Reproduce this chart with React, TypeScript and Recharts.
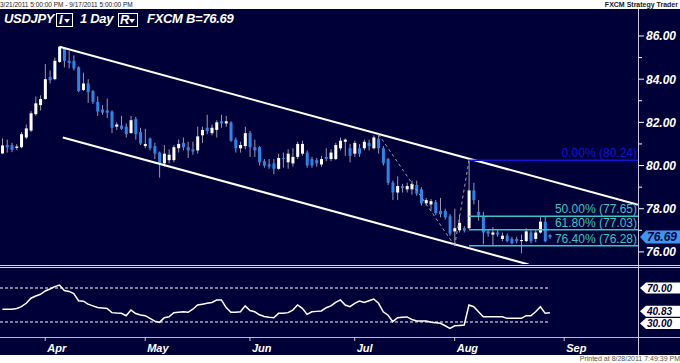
import React from "react"
import { ComposedChart, Bar, Line, XAxis, YAxis, ReferenceLine } from "recharts"

// daily candles, Mar 21 .. Aug 29 2011 (index 0 = Mar 21)
const opens = [
  80.56, 80.95, 80.95, 80.82, 80.85, 81.3, 81.62, 82.38, 82.8, 83.08,
  84.1, 84.0, 84.8, 85.4, 84.85, 84.85, 84.55, 83.5, 83.8, 83.45,
  82.95, 82.6, 82.55, 82.5, 81.8, 81.85, 81.8, 81.5, 82.15, 81.55,
  80.9, 81.25, 80.9, 80.6, 80.1, 80.25, 80.25, 80.8, 81.05, 80.85,
  80.75, 80.7, 81.4, 81.75, 81.5, 81.65, 82.05, 81.95, 82.0, 81.2,
  80.8, 80.9, 81.5, 80.85, 80.85, 80.2, 80.05, 80.1, 79.85, 80.35,
  80.15, 80.1, 80.4, 80.55, 80.6, 80.3, 80.25, 80.05, 80.4, 80.3,
  80.3, 80.8, 81.1, 80.8, 80.55, 80.8, 80.8, 81.05, 80.8, 81.25,
  80.8, 80.3, 79.2, 78.75, 79.05, 78.9, 78.9, 79.1, 78.9, 78.25,
  78.2, 78.3, 77.9, 77.9, 77.65, 76.95, 77.0, 77.1, 77.1, 78.85,
  77.85, 77.65, 76.95, 76.8, 76.9, 76.6, 76.75, 76.6, 76.6, 76.5,
  76.5, 76.9, 76.6, 76.9, 77.4, 76.78,
]
const highs = [
  81.26, 81.2, 81.05, 81.0, 81.55, 81.9, 82.52, 83.2, 83.25, 84.7,
  84.4, 85.0, 85.52, 85.45, 85.3, 85.1, 84.6, 84.3, 84.0, 83.5,
  83.2, 82.8, 83.1, 82.55, 82.0, 82.3, 81.95, 82.3, 82.25, 81.75,
  81.7, 81.3, 81.05, 80.65, 80.95, 80.75, 80.95, 81.2, 81.3, 81.1,
  81.1, 81.8, 81.8, 82.35, 81.9, 82.1, 82.35, 82.3, 82.05, 81.3,
  81.1, 81.8, 81.6, 81.2, 80.9, 80.3, 80.3, 80.3, 80.55, 80.6,
  80.75, 80.8, 81.1, 81.15, 80.7, 80.4, 80.35, 80.45, 80.8, 80.75,
  81.05, 81.3, 81.25, 81.0, 81.15, 81.0, 81.2, 81.2, 81.4, 81.45,
  80.9, 80.35, 79.3, 79.5, 79.15, 79.2, 79.3, 79.3, 79.0, 78.5,
  78.45, 78.4, 78.5, 78.0, 77.75, 78.0, 77.7, 77.2, 80.24, 79.2,
  78.4, 77.85, 77.05, 77.15, 77.0, 76.9, 76.85, 76.7, 76.7, 76.8,
  77.1, 77.0, 77.05, 77.6, 77.65, 76.82,
]
const lows = [
  80.54, 80.6, 80.62, 80.72, 80.8, 81.22, 81.55, 82.3, 82.55, 83.05,
  83.8, 83.95, 84.75, 84.55, 84.5, 84.4, 83.4, 83.45, 82.9, 82.85,
  82.3, 82.35, 82.2, 81.5, 81.65, 81.65, 81.3, 81.48, 81.2, 80.95,
  80.8, 80.7, 80.3, 79.44, 79.95, 80.1, 80.15, 80.6, 80.7, 80.35,
  80.5, 80.55, 81.05, 81.45, 81.4, 81.3, 81.75, 81.8, 81.1, 80.6,
  80.6, 80.75, 80.4, 80.4, 80.0, 79.9, 79.85, 79.6, 79.8, 79.9,
  79.85, 79.95, 80.3, 80.45, 79.9, 79.9, 79.95, 79.95, 80.2, 80.2,
  80.25, 80.7, 80.45, 80.15, 80.4, 80.4, 80.7, 80.7, 80.75, 80.55,
  80.0, 79.1, 78.4, 78.4, 78.75, 78.75, 78.65, 78.6, 78.15, 78.15,
  77.9, 77.7, 77.6, 77.5, 76.75, 76.28, 76.9, 76.9, 77.05, 78.2,
  77.45, 76.35, 76.7, 76.3, 76.7, 76.5, 76.45, 76.35, 76.4, 75.94,
  76.45, 76.4, 76.45, 76.85, 76.45, 76.6,
]
const closes = [
  80.93, 80.85, 80.72, 80.88, 81.45, 81.72, 82.42, 82.88, 83.08, 84.0,
  83.95, 84.85, 85.5, 84.85, 84.75, 84.5, 83.45, 83.8, 83.4, 82.95,
  82.5, 82.45, 82.45, 81.75, 81.9, 81.7, 81.45, 82.1, 81.45, 81.02,
  81.0, 80.8, 80.55, 80.1, 80.55, 80.5, 80.85, 81.0, 80.85, 80.7,
  80.65, 81.35, 81.65, 81.6, 81.75, 82.0, 81.95, 82.05, 81.15, 80.8,
  80.95, 81.5, 80.85, 80.7, 80.15, 80.0, 79.95, 79.85, 80.35, 80.3,
  80.55, 80.4, 81.0, 81.0, 80.0, 80.0, 80.1, 80.3, 80.3, 80.6,
  80.95, 81.15, 81.2, 80.45, 81.05, 80.55, 81.1, 80.9, 81.3, 80.8,
  80.1, 79.2, 78.75, 79.05, 78.95, 79.05, 79.15, 78.7, 78.25, 78.4,
  78.35, 77.8, 77.75, 77.6, 76.85, 77.1, 77.35, 76.98, 78.85, 78.4,
  77.7, 76.9, 76.85, 76.9, 76.8, 76.75, 76.5, 76.4, 76.5, 76.55,
  76.95, 76.5, 76.9, 77.4, 76.5, 76.69,
]
const rsi = [
  45, 45, 45, 46, 48, 52, 58, 60.6, 62.6, 66.5,
  68.8, 71.6, 73.5, 67, 66, 63.5, 55, 54.5, 51, 49,
  47, 46.5, 46, 41, 40.5, 40.2, 37.4, 44, 40, 38.2,
  37.4, 34.3, 31, 29.6, 35, 36.2, 41, 41.5, 42, 41.4,
  45, 50, 51, 52, 53, 55.9, 56, 47, 41.5, 41.4,
  42, 49, 43.5, 42, 38.5, 36.5, 35.5, 35, 40.2, 40.2,
  41, 44, 50, 46, 39, 42, 42.5, 43, 46.8, 49,
  53, 56, 50, 48, 52, 54.7, 53, 55, 57, 52,
  42, 38, 30.4, 35, 35.5, 36, 33, 31.2, 31.2, 31.2,
  29.6, 29, 28.5, 25.6, 22.6, 25.6, 26, 26.5, 50, 48,
  42, 36.2, 36.2, 36.2, 36.2, 36.2, 34.3, 34.3, 34.3, 34.3,
  37.4, 37.4, 42, 48, 40.2, 40.83,
]

const priceTicks = [76, 77, 78, 79, 80, 81, 82, 83, 84, 85, 86]
const rsiMarks = [70, 40.83, 30]
const rsiNudge = [0, -1.5, 1.5]
const monthTicks = [9, 30, 52, 74, 95, 118]
const monthLabels = ["Apr", "May", "Jun", "Jul", "Aug", "Sep"]
const fibNames = ["0.00%", "50.00%", "61.80%", "76.40%"]
const fibPrices = [80.24, 77.65, 77.03, 76.28]
const fibColors = ["#1414d2", "#3cc4c4", "#3cc4c4", "#3cc4c4"]

const candles = opens.map((o, i) => ({
  i,
  open: o,
  high: highs[i],
  low: lows[i],
  close: closes[i],
  range: [lows[i], highs[i]],
  rsi: rsi[i],
}))

const NAVY = "#000038"
const FONT = "'Liberation Sans', Arial, sans-serif"
const X_DOMAIN = [-0.5, 133.5]

function Candle(props: any) {
  const { x, y, width, height, payload } = props
  const top = Math.min(y, y + height)
  const h = Math.abs(height)
  const span = payload.high - payload.low
  const k = span > 0 ? h / span : 0
  const yo = top + (payload.high - payload.open) * k
  const yc = top + (payload.high - payload.close) * k
  const up = payload.close >= payload.open
  const cx = x + width / 2
  return (
    <g>
      <line x1={cx} x2={cx} y1={top} y2={top + h} stroke="#9a9aac" strokeWidth={1} />
      <rect
        x={x}
        y={Math.min(yo, yc)}
        width={width}
        height={Math.max(1, Math.abs(yc - yo))}
        fill={up ? "#ffffff" : "#2c86e8"}
      />
    </g>
  )
}

const priceTick = (p: any) => {
  const v = p.payload.value
  const major = v % 2 === 0
  return (
    <g>
      <line x1={p.x + 1} x2={p.x + (major ? 6 : 4)} y1={p.y} y2={p.y} stroke="#ffffff" />
      {major && (
        <text x={p.x + 8} y={p.y + 4.5} fill="#ffffff" fontSize={12} fontWeight="bold" fontStyle="italic" fontFamily={FONT}>
          {v.toFixed(2)}
        </text>
      )}
    </g>
  )
}

const monthTick = (p: any) => {
  const idx = monthTicks.indexOf(p.payload.value)
  return (
    <g>
      <line x1={p.x} x2={p.x} y1={p.y} y2={p.y + 4} stroke="#c8c8d8" />
      <text x={p.x + 2} y={p.y + 15} fill="#ffffff" fontSize={11} fontWeight="bold" fontStyle="italic" fontFamily={FONT}>
        {monthLabels[idx]}
      </text>
    </g>
  )
}

// flag-shaped value marker on the right axis
function flag(text: string, fill: string, size: number, nudge = 0) {
  const hh = size / 2 + 0.5
  return (p: any) => {
    const vb = p.viewBox || {}
    const x = (vb.x || 0) + (vb.width || 0)
    const y = (vb.y || 0) + nudge
    return (
      <g>
        <polygon
          points={`${x + 2},${y} ${x + 8},${y - hh} ${x + 42},${y - hh} ${x + 42},${y + hh} ${x + 8},${y + hh}`}
          fill={fill}
        />
        <text x={x + 9} y={y + size * 0.36} fill={NAVY} fontSize={size} fontWeight="bold" fontStyle="italic" fontFamily={FONT}>
          {text}
        </text>
      </g>
    )
  }
}

function fibLabel(text: string, color: string) {
  return (p: any) => {
    const vb = p.viewBox || {}
    const x = (vb.x || 0) + (vb.width || 0)
    const y = vb.y || 0
    return (
      <text x={x - 1} y={y - 3} textAnchor="end" fill={color} fontSize={12} fontFamily={FONT}>
        {text}
      </text>
    )
  }
}

export default function App() {
  const hdr: React.CSSProperties = {
    position: "absolute",
    top: 12,
    color: "#ffffff",
    fontFamily: FONT,
    fontSize: 13,
    fontWeight: "bold",
    fontStyle: "italic",
    lineHeight: "14px",
    letterSpacing: -0.3,
    whiteSpace: "nowrap",
  }
  const box: React.CSSProperties = {
    position: "absolute",
    top: 13,
    height: 12,
    border: "1px solid #ffffff",
  }
  const arrow = (
    <svg width={6} height={4} style={{ position: "absolute", right: 2, top: 5 }}>
      <polygon points="0,0 6,0 3,4" fill="#ffffff" />
    </svg>
  )
  return (
    <div style={{ position: "absolute", left: 0, top: 0, width: 680, height: 363, background: "#ffffff", overflow: "hidden" }}>
      <div style={{ position: "absolute", left: 0, top: 1, fontFamily: FONT, fontSize: 6.5, color: "#202020", whiteSpace: "nowrap" }}>
        3/21/2011 5:00:00 PM - 9/17/2011 5:00:00 PM
      </div>
      <div style={{ position: "absolute", right: 2, top: 1, fontFamily: FONT, fontSize: 7, fontWeight: "bold", color: "#202020", whiteSpace: "nowrap" }}>
        FXCM Strategy Trader
      </div>

      <div style={{ position: "absolute", left: 0, top: 9, width: 680, height: 346, background: NAVY }} />

      <div style={{ ...hdr, left: 4 }}>USDJPY</div>
      <div style={{ ...box, left: 56, width: 15 }}>
        <span style={{ ...hdr, top: -1, left: 2 }}>I</span>
        {arrow}
      </div>
      <div style={{ ...hdr, left: 80 }}>1 Day</div>
      <div style={{ ...box, left: 118, width: 18 }}>
        <span style={{ ...hdr, top: -1, left: 1 }}>R</span>
        {arrow}
      </div>
      <div style={{ ...hdr, left: 147 }}>FXCM</div>
      <div style={{ ...hdr, left: 186 }}>B=76.69</div>

      <div style={{ position: "absolute", left: 0, top: 9 }}>
        <ComposedChart width={680} height={255} data={candles} margin={{ top: 0, right: 0, bottom: 0, left: 0 }}>
          <XAxis dataKey="i" type="number" domain={X_DOMAIN} hide />
          <YAxis
            orientation="right"
            width={42}
            domain={[75.44, 87.25]}
            ticks={priceTicks}
            interval={0}
            tick={priceTick}
            tickLine={false}
            axisLine={false}
            tickSize={0}
            tickMargin={0}
            allowDataOverflow
          />
          <ReferenceLine
            segment={[{ x: 12, y: 85.5 }, { x: 133.5, y: 78.18 }]}
            stroke="#ffffff"
            strokeWidth={2}
            ifOverflow="visible"
          />
          <ReferenceLine
            segment={[{ x: 12.7, y: 81.3 }, { x: 110.5, y: 75.42 }]}
            stroke="#ffffff"
            strokeWidth={2}
            ifOverflow="visible"
          />
          <ReferenceLine
            segment={[{ x: 79, y: 81.45 }, { x: 95, y: 76.28 }]}
            stroke="#a0a0a8"
            strokeDasharray="3 3"
            ifOverflow="visible"
          />
          <ReferenceLine
            segment={[{ x: 95, y: 76.28 }, { x: 98, y: 80.24 }]}
            stroke="#a0a0a8"
            strokeDasharray="3 3"
            ifOverflow="visible"
          />
          {fibPrices.map((p, k) => (
            <ReferenceLine
              key={k}
              segment={[{ x: 98, y: p }, { x: 133.5, y: p }]}
              stroke={fibColors[k]}
              strokeWidth={1.5}
              ifOverflow="visible"
              label={fibLabel(`${fibNames[k]} (${p.toFixed(2)})`, fibColors[k])}
            />
          ))}
          <Bar dataKey="range" barSize={3} shape={Candle} isAnimationActive={false} />
          <ReferenceLine y={76.69} stroke="none" ifOverflow="visible" label={flag("76.69", "#3a98f4", 12)} />
        </ComposedChart>
      </div>

      <div style={{ position: "absolute", left: 0, top: 265, width: 680, height: 1, background: "#d8d8e0" }} />
      <div style={{ position: "absolute", left: 0, top: 267, width: 680, height: 1, background: "#d8d8e0" }} />
      <div style={{ position: "absolute", left: 0, top: 337, width: 680, height: 1, background: "#b8b8c8" }} />
      <div style={{ position: "absolute", left: 638, top: 9, width: 1, height: 346, background: "#c8c8d8" }} />

      <div style={{ position: "absolute", left: 0, top: 268 }}>
        <ComposedChart width={680} height={87} data={candles} margin={{ top: 0, right: 0, bottom: 0, left: 0 }}>
          <XAxis
            dataKey="i"
            type="number"
            domain={X_DOMAIN}
            ticks={monthTicks}
            interval={0}
            tick={monthTick}
            height={18}
            tickLine={false}
            axisLine={false}
            tickSize={0}
            tickMargin={0}
          />
          <YAxis orientation="right" width={42} domain={[12.35, 93.53]} ticks={[]} tick={false} axisLine={false} tickLine={false} />
          <ReferenceLine segment={[{ x: -0.5, y: 70 }, { x: 115, y: 70 }]} stroke="#ffffff" strokeDasharray="3 2" ifOverflow="visible" />
          <ReferenceLine segment={[{ x: -0.5, y: 30 }, { x: 115, y: 30 }]} stroke="#ffffff" strokeDasharray="3 2" ifOverflow="visible" />
          <Line dataKey="rsi" type="linear" stroke="#ffffff" strokeWidth={1.5} dot={false} isAnimationActive={false} />
          {rsiMarks.map((m, k) => (
            <ReferenceLine
              key={m}
              y={m}
              stroke="none"
              ifOverflow="visible"
              label={flag(m.toFixed(2), "#ffffff", 10, rsiNudge[k])}
            />
          ))}
        </ComposedChart>
      </div>

      <div style={{ position: "absolute", right: 0, top: 355, fontFamily: FONT, fontSize: 7, color: "#505050", whiteSpace: "nowrap" }}>
        Printed at 8/28/2011 7:49:39 PM
      </div>
    </div>
  )
}
